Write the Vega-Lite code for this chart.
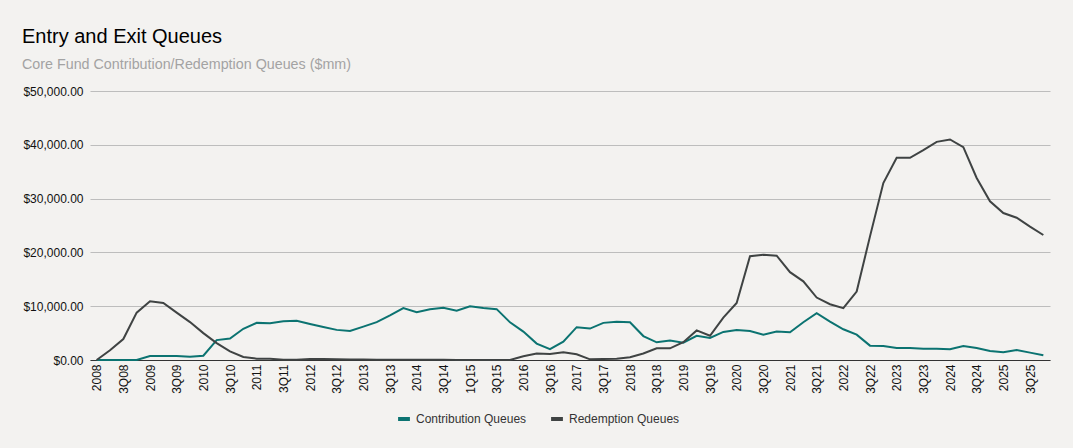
{
  "$schema": "https://vega.github.io/schema/vega-lite/v6.json",
  "autosize": {"type": "none"},
  "width": 960,
  "height": 269,
  "padding": {"left": 90, "top": 91, "right": 23, "bottom": 88},
  "background": "#f3f2f0",
  "title": {
    "text": "Entry and Exit Queues",
    "subtitle": "Core Fund Contribution/Redemption Queues ($mm)",
    "anchor": "start",
    "frame": "group",
    "dx": -68,
    "offset": 13,
    "font": "Liberation Sans",
    "fontSize": 20,
    "fontWeight": "normal",
    "color": "#000000",
    "subtitleFont": "Liberation Sans",
    "subtitleFontSize": 14.3,
    "subtitleColor": "#a3a3a3",
    "subtitlePadding": 11
  },
  "config": {
    "view": {"stroke": null},
    "font": "Liberation Sans"
  },
  "data": {
    "values": [
      {"q": "2008", "Contribution Queues": 0, "Redemption Queues": 0},
      {"q": "2Q08", "Contribution Queues": 0, "Redemption Queues": 1800},
      {"q": "3Q08", "Contribution Queues": 0, "Redemption Queues": 3900},
      {"q": "4Q08", "Contribution Queues": 0, "Redemption Queues": 8800},
      {"q": "2009", "Contribution Queues": 740, "Redemption Queues": 10900},
      {"q": "2Q09", "Contribution Queues": 740, "Redemption Queues": 10600},
      {"q": "3Q09", "Contribution Queues": 750, "Redemption Queues": 8800},
      {"q": "4Q09", "Contribution Queues": 620, "Redemption Queues": 7050},
      {"q": "2010", "Contribution Queues": 800, "Redemption Queues": 5000},
      {"q": "2Q10", "Contribution Queues": 3700, "Redemption Queues": 3150},
      {"q": "3Q10", "Contribution Queues": 4000, "Redemption Queues": 1600},
      {"q": "4Q10", "Contribution Queues": 5800, "Redemption Queues": 550},
      {"q": "2011", "Contribution Queues": 6900, "Redemption Queues": 250},
      {"q": "2Q11", "Contribution Queues": 6850, "Redemption Queues": 250},
      {"q": "3Q11", "Contribution Queues": 7200, "Redemption Queues": 50},
      {"q": "4Q11", "Contribution Queues": 7300, "Redemption Queues": 50},
      {"q": "2012", "Contribution Queues": 6700, "Redemption Queues": 200},
      {"q": "2Q12", "Contribution Queues": 6150, "Redemption Queues": 200},
      {"q": "3Q12", "Contribution Queues": 5600, "Redemption Queues": 150},
      {"q": "4Q12", "Contribution Queues": 5400, "Redemption Queues": 100},
      {"q": "2013", "Contribution Queues": 6200, "Redemption Queues": 80},
      {"q": "2Q13", "Contribution Queues": 7050, "Redemption Queues": 60},
      {"q": "3Q13", "Contribution Queues": 8300, "Redemption Queues": 60},
      {"q": "4Q13", "Contribution Queues": 9650, "Redemption Queues": 50},
      {"q": "2014", "Contribution Queues": 8900, "Redemption Queues": 50},
      {"q": "2Q14", "Contribution Queues": 9450, "Redemption Queues": 30},
      {"q": "3Q14", "Contribution Queues": 9700, "Redemption Queues": 30},
      {"q": "4Q14", "Contribution Queues": 9150, "Redemption Queues": 20},
      {"q": "1Q15", "Contribution Queues": 10000, "Redemption Queues": 20},
      {"q": "2Q15", "Contribution Queues": 9650, "Redemption Queues": 10},
      {"q": "3Q15", "Contribution Queues": 9450, "Redemption Queues": 0},
      {"q": "4Q15", "Contribution Queues": 7000, "Redemption Queues": 0},
      {"q": "2016", "Contribution Queues": 5280, "Redemption Queues": 700},
      {"q": "2Q16", "Contribution Queues": 3050, "Redemption Queues": 1200},
      {"q": "3Q16", "Contribution Queues": 2000, "Redemption Queues": 1130},
      {"q": "4Q16", "Contribution Queues": 3400, "Redemption Queues": 1450},
      {"q": "2017", "Contribution Queues": 6100, "Redemption Queues": 1060},
      {"q": "2Q17", "Contribution Queues": 5840, "Redemption Queues": 120},
      {"q": "3Q17", "Contribution Queues": 6900, "Redemption Queues": 200},
      {"q": "4Q17", "Contribution Queues": 7100, "Redemption Queues": 250},
      {"q": "2018", "Contribution Queues": 7000, "Redemption Queues": 530},
      {"q": "2Q18", "Contribution Queues": 4450, "Redemption Queues": 1200},
      {"q": "3Q18", "Contribution Queues": 3290, "Redemption Queues": 2170},
      {"q": "4Q18", "Contribution Queues": 3630, "Redemption Queues": 2170},
      {"q": "2019", "Contribution Queues": 3230, "Redemption Queues": 3300},
      {"q": "2Q19", "Contribution Queues": 4500, "Redemption Queues": 5500},
      {"q": "3Q19", "Contribution Queues": 4100, "Redemption Queues": 4500},
      {"q": "4Q19", "Contribution Queues": 5220, "Redemption Queues": 7890},
      {"q": "2020", "Contribution Queues": 5590, "Redemption Queues": 10600},
      {"q": "2Q20", "Contribution Queues": 5400, "Redemption Queues": 19300},
      {"q": "3Q20", "Contribution Queues": 4700, "Redemption Queues": 19560},
      {"q": "4Q20", "Contribution Queues": 5280, "Redemption Queues": 19400},
      {"q": "2021", "Contribution Queues": 5150, "Redemption Queues": 16330},
      {"q": "2Q21", "Contribution Queues": 7020, "Redemption Queues": 14620},
      {"q": "3Q21", "Contribution Queues": 8690, "Redemption Queues": 11610},
      {"q": "4Q21", "Contribution Queues": 7140, "Redemption Queues": 10370},
      {"q": "2022", "Contribution Queues": 5710, "Redemption Queues": 9630},
      {"q": "2Q22", "Contribution Queues": 4720, "Redemption Queues": 12730},
      {"q": "3Q22", "Contribution Queues": 2670, "Redemption Queues": 22980},
      {"q": "4Q22", "Contribution Queues": 2610, "Redemption Queues": 32900},
      {"q": "2023", "Contribution Queues": 2240, "Redemption Queues": 37570},
      {"q": "2Q23", "Contribution Queues": 2240, "Redemption Queues": 37570},
      {"q": "3Q23", "Contribution Queues": 2110, "Redemption Queues": 39000},
      {"q": "4Q23", "Contribution Queues": 2110, "Redemption Queues": 40550},
      {"q": "2024", "Contribution Queues": 1990, "Redemption Queues": 40990},
      {"q": "2Q24", "Contribution Queues": 2610, "Redemption Queues": 39560},
      {"q": "3Q24", "Contribution Queues": 2240, "Redemption Queues": 33840},
      {"q": "4Q24", "Contribution Queues": 1680, "Redemption Queues": 29500},
      {"q": "2025", "Contribution Queues": 1430, "Redemption Queues": 27320},
      {"q": "2Q25", "Contribution Queues": 1860, "Redemption Queues": 26450},
      {"q": "3Q25", "Contribution Queues": 1370, "Redemption Queues": 24780},
      {"q": "4Q25", "Contribution Queues": 870, "Redemption Queues": 23230}
    ]
  },
  "transform": [
    {"fold": ["Contribution Queues", "Redemption Queues"], "as": ["series", "value"]}
  ],
  "mark": {"type": "line", "strokeWidth": 2},
  "encoding": {
    "x": {
      "field": "q",
      "type": "ordinal",
      "sort": null,
      "scale": {"type": "point", "padding": 0.5},
      "axis": {
        "title": null,
        "values": ["2008", "3Q08", "2009", "3Q09", "2010", "3Q10", "2011", "3Q11", "2012", "3Q12", "2013", "3Q13", "2014", "3Q14", "1Q15", "3Q15", "2016", "3Q16", "2017", "3Q17", "2018", "3Q18", "2019", "3Q19", "2020", "3Q20", "2021", "3Q21", "2022", "3Q22", "2023", "3Q23", "2024", "3Q24", "2025", "3Q25"],
        "labelAngle": -90,
        "labelFontSize": 12,
        "labelColor": "#111111",
        "labelPadding": 4,
        "ticks": false,
        "domainColor": "#333333",
        "domainWidth": 1,
        "grid": false
      }
    },
    "y": {
      "field": "value",
      "type": "quantitative",
      "scale": {"domain": [0, 50000]},
      "axis": {
        "title": null,
        "values": [0, 10000, 20000, 30000, 40000, 50000],
        "format": "$,.2f",
        "labelFontSize": 12,
        "labelColor": "#111111",
        "labelPadding": 7,
        "ticks": false,
        "domain": false,
        "gridColor": "#bdbdbd",
        "gridWidth": 1
      }
    },
    "color": {
      "field": "series",
      "type": "nominal",
      "scale": {
        "domain": ["Contribution Queues", "Redemption Queues"],
        "range": ["#0b7371", "#3f4343"]
      },
      "legend": {
        "title": null,
        "orient": "none",
        "direction": "horizontal",
        "legendX": 306,
        "legendY": 320,
        "symbolType": "stroke",
        "symbolStrokeWidth": 4,
        "symbolSize": 140,
        "labelFontSize": 12,
        "labelColor": "#333333",
        "columnPadding": 16
      }
    }
  }
}
